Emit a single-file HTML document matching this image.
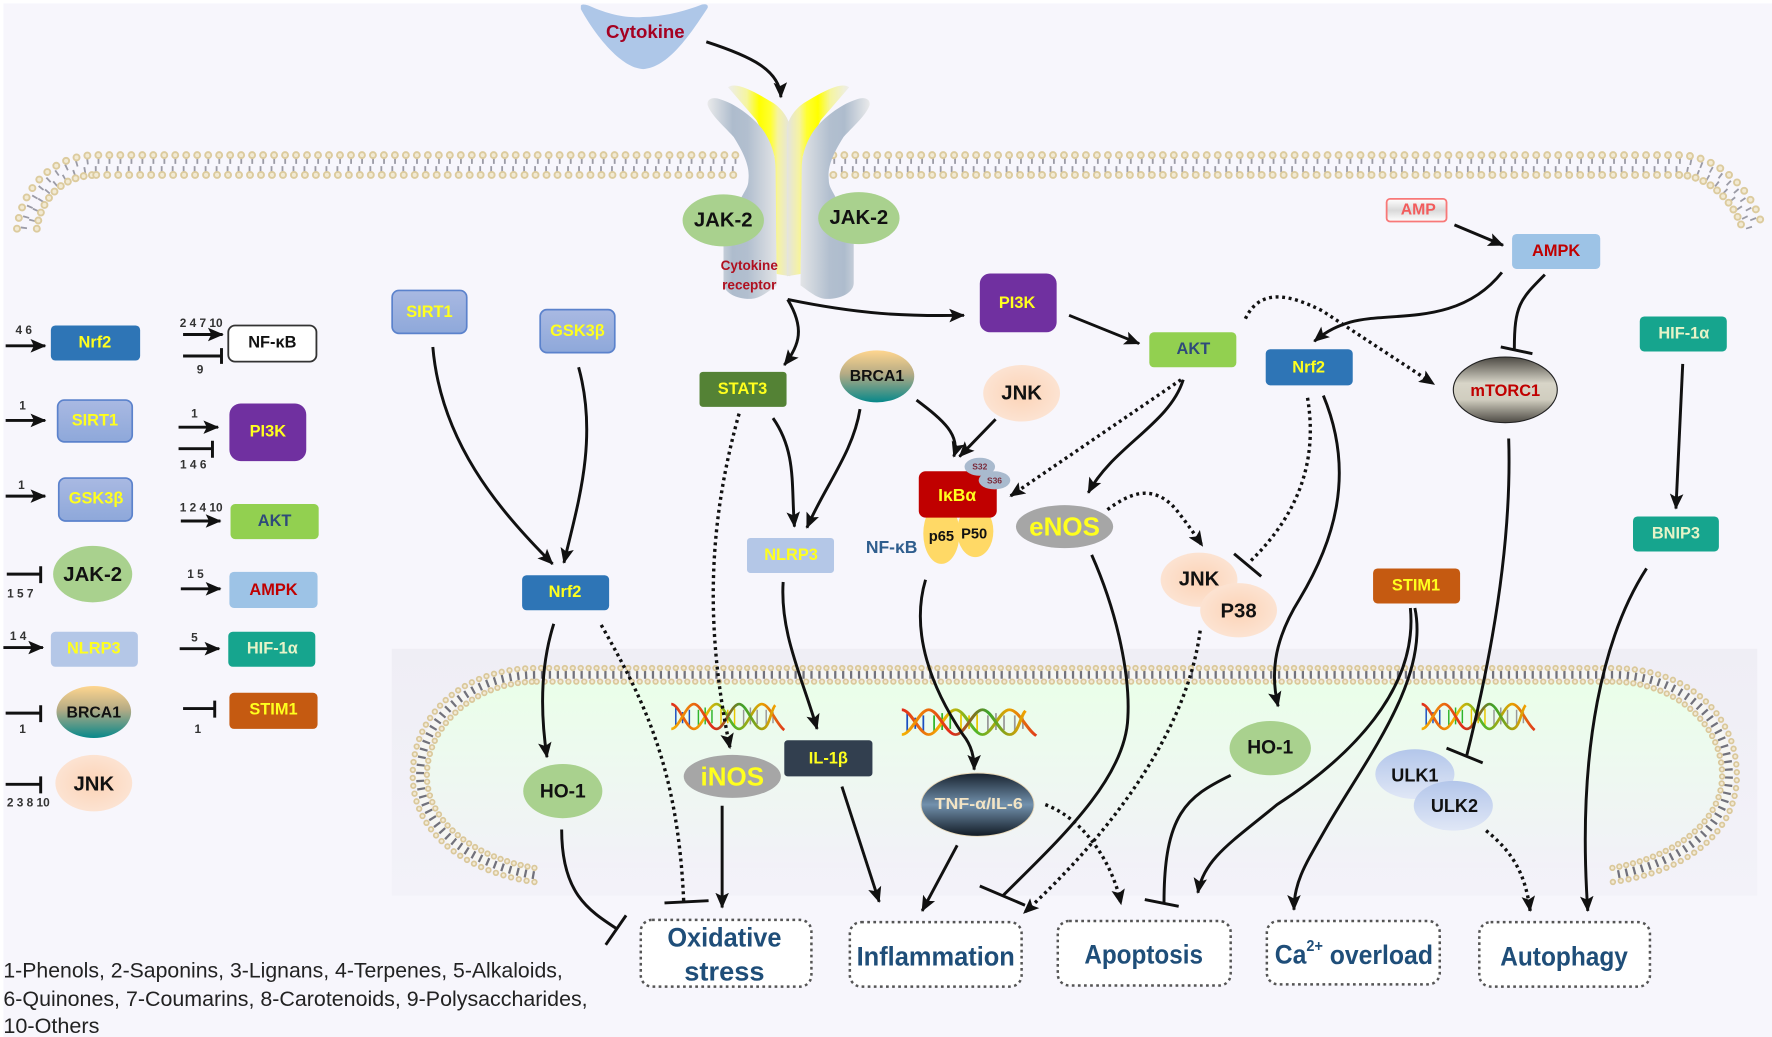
<!DOCTYPE html>
<html><head><meta charset="utf-8"><title>Pathway diagram</title>
<style>
html,body{margin:0;padding:0;background:#fff}
svg{display:block}
text{font-family:"Liberation Sans",sans-serif;text-anchor:middle;dominant-baseline:central;font-weight:bold}
.n{font-size:14.5px}.y{fill:#ffff1e}.k{fill:#111}.r{fill:#c00000}.bl{fill:#2f4a7a}.h{fill:#e6f3c8}
.num{font-size:10.5px;fill:#333}
.o{font-size:24px;fill:#1f4e79}
.leg{font-weight:normal;font-size:19px;fill:#222;text-anchor:start;dominant-baseline:alphabetic}
.c{fill:none;stroke:#111;stroke-width:2.6}
.d{fill:none;stroke:#111;stroke-width:3;stroke-dasharray:2.6 3.2}
.b{fill:#fff;stroke:#555;stroke-width:2.2;stroke-dasharray:2.4 3}
.ha{fill:none;stroke:#dccb9e;stroke-width:7;stroke-linecap:round;stroke-dasharray:0 9.7}
.hb{fill:none;stroke:#f2ead4;stroke-width:3.6;stroke-linecap:round;stroke-dasharray:0 9.7}
.ta{fill:none;stroke:#9b9ba6;stroke-width:5.5;stroke-dasharray:1.6 8.1}
.tb{fill:none;stroke:#9b9ba6;stroke-width:5.5;stroke-dasharray:1.6 8.1;stroke-dashoffset:3}
.ia{fill:none;stroke:#dac89b;stroke-width:5.6;stroke-linecap:round;stroke-dasharray:0 7}
.ib{fill:none;stroke:#f2ead6;stroke-width:2.6;stroke-linecap:round;stroke-dasharray:0 7}
.it{fill:none;stroke:#72727c;stroke-width:7;stroke-dasharray:2 5}
</style></head><body>
<svg xmlns="http://www.w3.org/2000/svg" width="1772" height="1037" viewBox="0 0 1568 917.6">
<defs>
<marker id="a" markerUnits="userSpaceOnUse" markerWidth="18" markerHeight="18" refX="13" refY="9" orient="auto" viewBox="0 0 18 18"><path d="M0,3 L14,9 L0,15 L3,9z" fill="#111"/></marker>
<linearGradient id="sirt" x1="0" y1="0" x2="0" y2="1"><stop offset="0" stop-color="#a9b9e2"/><stop offset="1" stop-color="#8ea8da"/></linearGradient>
<linearGradient id="brca" x1="0" y1="0" x2="0" y2="1"><stop offset="0" stop-color="#ffd68f"/><stop offset=".45" stop-color="#b5ab85"/><stop offset="1" stop-color="#07888a"/></linearGradient>
<radialGradient id="jnk"><stop offset="0" stop-color="#fcd3b6"/><stop offset="1" stop-color="#fce3d2"/></radialGradient>
<linearGradient id="mt" x1="0" y1="0" x2="0" y2="1"><stop offset="0" stop-color="#4d4a44"/><stop offset=".4" stop-color="#d8d5c8"/><stop offset=".65" stop-color="#d0cdbf"/><stop offset="1" stop-color="#4d4a44"/></linearGradient>
<linearGradient id="tnf" x1="0" y1="0" x2="0" y2="1"><stop offset="0" stop-color="#18222e"/><stop offset=".5" stop-color="#7291ad"/><stop offset="1" stop-color="#111a24"/></linearGradient>
<linearGradient id="ulk" x1="0" y1="0" x2="0" y2="1"><stop offset="0" stop-color="#b3c6ea"/><stop offset="1" stop-color="#e0e7f6"/></linearGradient>
<linearGradient id="amp" x1="0" y1="0" x2="0" y2="1"><stop offset="0" stop-color="#fff"/><stop offset=".5" stop-color="#d9d9d9"/><stop offset="1" stop-color="#fff"/></linearGradient>
<linearGradient id="org" x1="0" y1="0" x2="0" y2="1"><stop offset="0" stop-color="#eaffe9"/><stop offset="1" stop-color="#f2f1f8"/></linearGradient>
<linearGradient id="pan" x1="0" y1="0" x2="0" y2="1"><stop offset="0" stop-color="#efeef5"/><stop offset="1" stop-color="#f3f2f9"/></linearGradient>
<linearGradient id="gr" gradientUnits="userSpaceOnUse" x1="624" y1="0" x2="690" y2="0"><stop offset="0" stop-color="#ececec"/><stop offset=".35" stop-color="#aebccd"/><stop offset=".55" stop-color="#b2bfcf"/><stop offset="1" stop-color="#eaeaea"/></linearGradient>
<linearGradient id="ye" gradientUnits="userSpaceOnUse" x1="643" y1="0" x2="698" y2="0"><stop offset="0" stop-color="#ededed"/><stop offset=".3" stop-color="#f5f5a0"/><stop offset=".5" stop-color="#ffff00"/><stop offset=".68" stop-color="#ffff30"/><stop offset=".8" stop-color="#f6f3a0"/><stop offset="1" stop-color="#e4e4e0"/></linearGradient>
<linearGradient id="s1" x1="0" y1="0" x2="1" y2="0"><stop offset="0" stop-color="#e02a1a"/><stop offset=".3" stop-color="#f5b400"/><stop offset=".55" stop-color="#4fb52a"/><stop offset=".8" stop-color="#e8a000"/><stop offset="1" stop-color="#e03a1a"/></linearGradient>
<linearGradient id="s2" x1="0" y1="0" x2="1" y2="0"><stop offset="0" stop-color="#f5b400"/><stop offset=".4" stop-color="#e02a1a"/><stop offset=".7" stop-color="#3da52a"/><stop offset="1" stop-color="#f5a000"/></linearGradient>
<g id="dna">
<g stroke-width="1.3"><path d="M4,4V20M10,8V18M16,6V21" stroke="#1a4fc0"/><path d="M24,6V20M30,4V19M36,6V18" stroke="#2fb52a"/><path d="M44,5V20M50,6V18M56,5V21" stroke="#e8c800"/><path d="M64,6V20M70,4V19M76,6V19M84,6V20M90,8V18" stroke="#999"/></g>
<path d="M0,1 C7,1 13,23 20,23 S33,1 40,1 S53,23 60,23 S73,1 80,1 S93,19 100,24" fill="none" stroke="url(#s1)" stroke-width="2.4"/>
<path d="M0,23 C7,23 13,1 20,1 S33,23 40,23 S53,1 60,1 S73,23 80,23 S88,6 92,2" fill="none" stroke="url(#s2)" stroke-width="2.4"/>
</g>
</defs>

<rect width="1568" height="917.6" fill="#fff"/>
<rect x="3" y="3" width="1565" height="914.6" fill="#f7f6fc"/>

<g transform="scale(1.0019)">
<rect x="346" y="573" width="1206" height="218" fill="url(#pan)"/>
<path d="M472,766.5 C417,757 377,725 377,685 C377,640 420,602 474,602 L1424,602 C1480,602 1521,640 1521,685 C1521,725 1480,757 1424,766.5z" fill="url(#org)"/>

<!-- organelle membrane -->
<path d="M472,773 C413,763 371,730 371,685 C371,635 415,596 474,596 L1424,596 C1485,596 1527,635 1527,685 C1527,730 1485,763 1424,773" fill="none" stroke="#f6f6f3" stroke-width="8"/>
<path class="it" d="M472,773 C413,763 371,730 371,685 C371,635 415,596 474,596 L1424,596 C1485,596 1527,635 1527,685 C1527,730 1485,763 1424,773"/>
<path class="ia" d="M472,779 C410,770 364.5,735 364.5,685 C364.5,630 410,590 474,590 L1424,590 C1490,590 1534,630 1534,685 C1534,735 1490,770 1424,779"/>
<path class="ib" d="M472,779 C410,770 364.5,735 364.5,685 C364.5,630 410,590 474,590 L1424,590 C1490,590 1534,630 1534,685 C1534,735 1490,770 1424,779"/>
<g style="stroke-dasharray:0 6.2">
<path class="ia" style="stroke-dasharray:0 6.2" d="M472,766.5 C417,757 377,725 377,685 C377,640 420,602 474,602"/>
<path class="ib" style="stroke-dasharray:0 6.2" d="M472,766.5 C417,757 377,725 377,685 C377,640 420,602 474,602"/>
<path class="ia" style="stroke-dasharray:0 6.2" d="M1424,602 C1480,602 1521,640 1521,685 C1521,725 1480,757 1424,766.5"/>
<path class="ib" style="stroke-dasharray:0 6.2" d="M1424,602 C1480,602 1521,640 1521,685 C1521,725 1480,757 1424,766.5"/>
</g>
<path class="ia" d="M474,602 L1424,602"/><path class="ib" d="M474,602 L1424,602"/>

<!-- plasma membrane -->
<path class="ta" d="M21,202 C24,176 46,142 85,142 L655,142"/>
<path class="tb" d="M27,202 C30,178 50,149.5 85,149.5 L655,149.5"/>
<path class="ta" d="M736,142 L1483,142 C1517,142 1545,176 1551,202"/>
<path class="tb" d="M736,149.5 L1483,149.5 C1510,149.5 1538,178 1545,202"/>
<path class="ha" d="M15,202 C18,172 42,137 85,137 L655,137"/><path class="hb" d="M15,202 C18,172 42,137 85,137 L655,137"/>
<path class="ha" style="stroke-dasharray:0 7.4" d="M32.5,202 C35,180 52,154.5 85,154.5"/><path class="hb" style="stroke-dasharray:0 7.4" d="M32.5,202 C35,180 52,154.5 85,154.5"/>
<path class="ha" d="M85,154.5 L655,154.5"/><path class="hb" d="M85,154.5 L655,154.5"/>
<path class="ha" d="M736,137 L1483,137 C1520,137 1550,172 1557,202"/><path class="hb" d="M736,137 L1483,137 C1520,137 1550,172 1557,202"/>
<path class="ha" d="M736,154.5 L1483,154.5"/><path class="hb" d="M736,154.5 L1483,154.5"/>
<path class="ha" style="stroke-dasharray:0 7.4" d="M1483,154.5 C1510,154.5 1532,180 1539,202"/><path class="hb" style="stroke-dasharray:0 7.4" d="M1483,154.5 C1510,154.5 1532,180 1539,202"/>

<!-- cytokine -->
<path d="M513,5 Q514,3 520,5 C540,14 555,16 568,15 C585,15 605,10 620,4 Q626,3 625,7 C610,30 590,60 568,61 C548,60 525,30 513,8z" fill="#aec7e8"/>

<!-- receptor -->
<path d="M643,77 C650,72 665,80 683,91 C692,97 698,107 698,115 L698,244 L686,242 L684,138 L668,106z" fill="url(#ye)"/>
<path d="M625,93 C624,87 630,85 637,88 C650,92 668,105 676,118 C682,128 685,138 685,150 L686,252 C675,260 670,264 662,264 C650,264 639,258 639,250 L639,212 L654,176 C658,168 661,165 661,159 C662,150 660,140 648,121 C640,112 628,102 625,93z" fill="url(#gr)"/>
<g transform="translate(1393,0) scale(-1,1)">
<path d="M643,77 C650,72 665,80 683,91 C692,97 698,107 698,115 L698,244 L686,242 L684,138 L668,106z" fill="url(#ye)"/>
<path d="M625,93 C624,87 630,85 637,88 C650,92 668,105 676,118 C682,128 685,138 685,150 L686,252 C675,260 670,264 662,264 C650,264 639,258 639,250 L639,212 L654,176 C658,168 661,165 661,159 C662,150 660,140 648,121 C640,112 628,102 625,93z" fill="url(#gr)"/>
</g>
</g>
<text x="571" y="28" style="font-size:16.5px;fill:#a50021">Cytokine</text>
<ellipse cx="640" cy="195" rx="36" ry="23" fill="#a9d18e"/><text x="640" y="195" class="k" style="font-size:18px">JAK-2</text>
<ellipse cx="760" cy="193" rx="36" ry="23" fill="#a9d18e"/><text x="760" y="193" class="k" style="font-size:18px">JAK-2</text>
<text x="663" y="235" style="font-size:12px;fill:#b01020">Cytokine</text>
<text x="663" y="252" style="font-size:12px;fill:#b01020">receptor</text>

<!-- DNA -->
<use href="#dna" x="594" y="622"/>
<use href="#dna" transform="translate(798,627) scale(1.19,1)"/>
<use href="#dna" x="1258" y="622"/>

<!-- LEGEND -->
<rect x="45" y="288" width="79" height="31" rx="4" fill="#2e75b6"/><text x="84" y="303" class="n y">Nrf2</text>
<rect x="51" y="354" width="66" height="37" rx="6" fill="url(#sirt)" stroke="#5b82cc" stroke-width="1.5"/><text x="84" y="372" class="n y">SIRT1</text>
<rect x="52" y="423" width="65" height="38" rx="6" fill="url(#sirt)" stroke="#5b82cc" stroke-width="1.5"/><text x="85" y="441" class="n y">GSK3β</text>
<ellipse cx="82" cy="508" rx="35" ry="25" fill="#a9d18e"/><text x="82" y="509" class="k" style="font-size:18px">JAK-2</text>
<rect x="45" y="559" width="77" height="31" rx="4" fill="#b4c7e7"/><text x="83" y="574" class="n y">NLRP3</text>
<ellipse cx="83" cy="630" rx="33" ry="23" fill="url(#brca)"/><text x="83" y="631" class="k" style="font-size:14px">BRCA1</text>
<ellipse cx="83" cy="693" rx="34" ry="25" fill="url(#jnk)"/><text x="83" y="694" class="k" style="font-size:18px">JNK</text>
<rect x="202" y="288" width="78" height="32" rx="6" fill="#fff" stroke="#333" stroke-width="1.6"/><text x="241" y="303" class="n k">NF-κB</text>
<rect x="203" y="357" width="68" height="51" rx="10" fill="#7030a0"/><text x="237" y="382" class="n y">PI3K</text>
<rect x="204" y="446" width="78" height="31" rx="4" fill="#92d050"/><text x="243" y="461" class="n bl">AKT</text>
<rect x="203" y="506" width="78" height="32" rx="4" fill="#9dc3e6"/><text x="242" y="522" class="n r">AMPK</text>
<rect x="202" y="559" width="77" height="31" rx="4" fill="#16a58e"/><text x="241" y="574" class="n h">HIF-1α</text>
<rect x="203" y="613" width="78" height="32" rx="4" fill="#c55a11"/><text x="242" y="628" class="n y">STIM1</text>
<g class="c">
<path marker-end="url(#a)" d="M5,306H40"/><path marker-end="url(#a)" d="M5,372H40"/><path marker-end="url(#a)" d="M5,439H40"/><path marker-end="url(#a)" d="M3,573H38"/>
<path d="M6,508H36M36,501V516M5,631H36M36,624V639M5,694H36M36,687V702"/>
<path marker-end="url(#a)" d="M162,296H197"/><path d="M162,315H196M196,308V322"/>
<path marker-end="url(#a)" d="M158,378H193"/><path d="M158,397H188M188,390V405"/>
<path marker-end="url(#a)" d="M160,461H195"/><path marker-end="url(#a)" d="M160,521H195"/><path marker-end="url(#a)" d="M159,574H194"/>
<path d="M162,627H190M190,620V635"/>
</g>
<text class="num" x="21" y="292">4 6</text><text class="num" x="20" y="359">1</text><text class="num" x="19" y="429">1</text><text class="num" x="18" y="525">1 5 7</text><text class="num" x="16" y="563">1 4</text><text class="num" x="20" y="645">1</text><text class="num" x="25" y="710">2 3 8 10</text>
<text class="num" x="178" y="286">2 4 7 10</text><text class="num" x="177" y="327">9</text><text class="num" x="172" y="366">1</text><text class="num" x="171" y="411">1 4 6</text><text class="num" x="178" y="449">1 2 4 10</text><text class="num" x="173" y="508">1 5</text><text class="num" x="172" y="564">5</text><text class="num" x="175" y="645">1</text>

<!-- MAIN NODES -->
<rect x="867" y="242" width="68" height="52" rx="9" fill="#7030a0"/><text x="900" y="268" class="n y">PI3K</text>
<rect x="347" y="257" width="66" height="38" rx="6" fill="url(#sirt)" stroke="#5b82cc" stroke-width="1.5"/><text x="380" y="276" class="n y">SIRT1</text>
<rect x="478" y="274" width="66" height="38" rx="6" fill="url(#sirt)" stroke="#5b82cc" stroke-width="1.5"/><text x="511" y="293" class="n y">GSK3β</text>
<rect x="619" y="329" width="77" height="31" rx="3" fill="#548235"/><text x="657" y="344" class="n y">STAT3</text>
<ellipse cx="776" cy="333" rx="33" ry="23" fill="url(#brca)"/><text x="776" y="333" class="k" style="font-size:14px">BRCA1</text>
<ellipse cx="904" cy="348" rx="34" ry="25" fill="url(#jnk)"/><text x="904" y="348" class="k" style="font-size:18px">JNK</text>
<rect x="1017" y="294" width="77" height="31" rx="4" fill="#92d050"/><text x="1056" y="309" class="n bl">AKT</text>
<rect x="1120" y="309" width="77" height="32" rx="4" fill="#2e75b6"/><text x="1158" y="325" class="n y">Nrf2</text>
<rect x="1227" y="176" width="53" height="20" rx="3" fill="url(#amp)" stroke="#f87878" stroke-width="1.6"/><text x="1255" y="186" style="font-size:14px;fill:#f25c5c">AMP</text>
<rect x="1338" y="207" width="78" height="31" rx="4" fill="#9dc3e6"/><text x="1377" y="222" class="n r">AMPK</text>
<ellipse cx="1332" cy="345" rx="46" ry="29" fill="url(#mt)" stroke="#222" stroke-width="1"/><text x="1332" y="346" class="n r">mTORC1</text>
<rect x="1451" y="280" width="77" height="31" rx="4" fill="#16a58e"/><text x="1490" y="295" class="n h">HIF-1α</text>
<rect x="1445" y="457" width="76" height="31" rx="4" fill="#16a58e"/><text x="1483" y="472" class="n h">BNIP3</text>
<rect x="1215" y="503" width="77" height="31" rx="4" fill="#c55a11"/><text x="1253" y="518" class="n y">STIM1</text>
<rect x="462" y="509" width="77" height="31" rx="4" fill="#2e75b6"/><text x="500" y="524" class="n y">Nrf2</text>
<rect x="661" y="476" width="77" height="31" rx="3" fill="#b4c7e7"/><text x="700" y="491" class="n y">NLRP3</text>

<ellipse cx="863" cy="470" rx="16" ry="23" fill="#ffd966"/>
<ellipse cx="833" cy="472" rx="16" ry="27" fill="#ffd966"/>
<rect x="813" y="417" width="69" height="41" rx="6" fill="#c00000"/><text x="847" y="438" class="y" style="font-size:15.5px">IκBα</text>
<ellipse cx="867" cy="413" rx="13.5" ry="8" fill="#a9bace"/><text x="867" y="413" style="font-size:7.5px;fill:#7a2a3a">S32</text>
<ellipse cx="880" cy="425" rx="14" ry="8" fill="#a9bace"/><text x="880" y="425" style="font-size:7.5px;fill:#7a2a3a">S36</text>
<text x="833" y="475" class="k" style="font-size:13px">p65</text><text x="862" y="473" class="k" style="font-size:13px">P50</text>
<text x="789" y="484" style="font-size:15.5px;fill:#2f5e8e">NF-κB</text>
<ellipse cx="942" cy="466" rx="43" ry="19" fill="#a6a6a6"/><text x="942" y="466" class="y" style="font-size:23px">eNOS</text>
<ellipse cx="1061" cy="513" rx="34" ry="24" fill="url(#jnk)"/><text x="1061" y="513" class="k" style="font-size:18px">JNK</text>
<ellipse cx="1096" cy="540" rx="34" ry="24" fill="url(#jnk)"/><text x="1096" y="541" class="k" style="font-size:18px">P38</text>
<ellipse cx="498" cy="700" rx="35" ry="24" fill="#a9d18e"/><text x="498" y="701" class="k" style="font-size:17px">HO-1</text>
<ellipse cx="648" cy="687" rx="43" ry="19" fill="#a6a6a6"/><text x="648" y="687" class="y" style="font-size:23px">iNOS</text>
<rect x="694" y="655" width="78" height="32" rx="3" fill="#323f4f"/><text x="733" y="671" class="n y">IL-1β</text>
<ellipse cx="865" cy="712" rx="50" ry="28" fill="url(#tnf)" stroke="#e8d8b8" stroke-width=".8"/><text x="866" y="712" style="font-size:14px;fill:#f3e4c4" textLength="78" lengthAdjust="spacingAndGlyphs">TNF-α/IL-6</text>
<ellipse cx="1124" cy="662" rx="36" ry="24" fill="#a9d18e"/><text x="1124" y="662" class="k" style="font-size:17px">HO-1</text>
<ellipse cx="1252" cy="685" rx="35" ry="22" fill="url(#ulk)"/><text x="1252" y="686" class="k" style="font-size:16px">ULK1</text>
<ellipse cx="1286" cy="713" rx="35" ry="22" fill="url(#ulk)"/><text x="1287" y="713" class="k" style="font-size:16px">ULK2</text>

<!-- OUTCOMES -->
<rect class="b" x="567" y="814" width="151" height="59" rx="10"/><text class="o" x="641" y="829" textLength="101" lengthAdjust="spacingAndGlyphs">Oxidative</text><text class="o" x="641" y="859" textLength="71" lengthAdjust="spacingAndGlyphs">stress</text>
<rect class="b" x="752" y="816" width="152" height="57" rx="10"/><text class="o" x="828" y="846" textLength="140" lengthAdjust="spacingAndGlyphs">Inflammation</text>
<rect class="b" x="936" y="815" width="153" height="57" rx="10"/><text class="o" x="1012" y="844" textLength="105" lengthAdjust="spacingAndGlyphs">Apoptosis</text>
<rect class="b" x="1121" y="815" width="153" height="56" rx="10"/><text class="o" x="1198" y="844" textLength="140" lengthAdjust="spacingAndGlyphs">Ca<tspan dy="-7" style="font-size:14px">2+</tspan><tspan dy="7"> overload</tspan></text>
<rect class="b" x="1309" y="816" width="151" height="57" rx="10"/><text class="o" x="1384" y="846" textLength="113" lengthAdjust="spacingAndGlyphs">Autophagy</text>

<!-- footnote -->
<text class="leg" x="3" y="865" textLength="495" lengthAdjust="spacingAndGlyphs">1-Phenols, 2-Saponins, 3-Lignans, 4-Terpenes, 5-Alkaloids,</text>
<text class="leg" x="3" y="890" textLength="517" lengthAdjust="spacingAndGlyphs">6-Quinones, 7-Coumarins, 8-Carotenoids, 9-Polysaccharides,</text>
<text class="leg" x="3" y="914" textLength="85" lengthAdjust="spacingAndGlyphs">10-Others</text>

<!-- CONNECTORS solid arrows -->
<g class="c" marker-end="url(#a)">
<path d="M625,37 C665,50 690,62 691,86"/>
<path d="M697,265 C760,278 800,280 853,279"/>
<path d="M697,265 C712,290 708,305 694,323"/>
<path d="M946,279 L1008,304"/>
<path d="M383,307 C390,390 440,450 489,499"/>
<path d="M512,325 C530,390 510,450 499,498"/>
<path d="M490,552 C478,590 478,630 484,670"/>
<path d="M639,713 L639,803"/>
<path d="M684,370 C705,400 700,430 703,466"/>
<path d="M761,362 C755,400 730,430 714,467"/>
<path d="M811,354 C835,372 850,385 844,404"/>
<path d="M881,371 L849,404"/>
<path d="M1047,336 C1035,375 985,395 963,436"/>
<path d="M847,748 L816,806"/>
<path d="M745,696 L778,798"/>
<path d="M693,515 C690,560 710,600 723,645"/>
<path d="M819,513 C805,560 825,610 852,650 C860,660 862,670 862,681"/>
<path d="M1171,350 C1200,420 1180,480 1150,530 C1125,570 1125,600 1131,625"/>
<path d="M1248,538 C1255,610 1195,670 1130,712 C1090,745 1065,760 1060,790"/>
<path d="M1252,538 C1265,600 1210,670 1175,730 C1155,765 1145,780 1145,805"/>
<path d="M1457,503 C1420,560 1395,660 1405,806"/>
<path d="M1489,322 L1483,450"/>
<path d="M1329,241 C1290,290 1230,275 1195,285 C1185,288 1175,292 1163,302"/>
<path d="M1287,199 L1330,217"/>
</g>
<!-- T-bars -->
<g class="c">
<path d="M497,734 C497,790 520,805 546,822 M536,836 L554,810"/>
<path d="M588,799 L627,797"/>
<path d="M966,491 C990,545 1000,600 998,635 C996,690 935,745 888,792 M867,784 L907,801"/>
<path d="M1089,686 C1050,705 1030,720 1030,799 M1013,796 L1043,802"/>
<path d="M1335,388 C1338,480 1320,580 1298,668 M1280,662 L1312,675"/>
<path d="M1367,243 C1345,265 1340,270 1340,309 M1328,307 L1356,313"/>
<path d="M1092,490 L1116,510"/>
</g>
<!-- dotted -->
<g class="d" marker-end="url(#a)">
<path d="M654,366 C625,470 625,560 646,662"/>
<path d="M1045,336 L894,439"/>
<path d="M980,451 C1000,436 1020,428 1040,450 Q1052,465 1064,483"/>
<path d="M1062,558 C1050,650 980,740 906,808"/>
<path d="M925,712 C960,725 985,765 992,800"/>
<path d="M1315,735 C1340,755 1350,775 1354,806"/>
<path d="M1102,282 C1115,255 1140,260 1170,275 L1269,340"/>
</g>
<g class="d">
<path d="M532,553 C570,620 600,680 605,798"/>
<path d="M1157,352 C1165,400 1155,450 1105,498"/>
</g>
</svg>
</body></html>
